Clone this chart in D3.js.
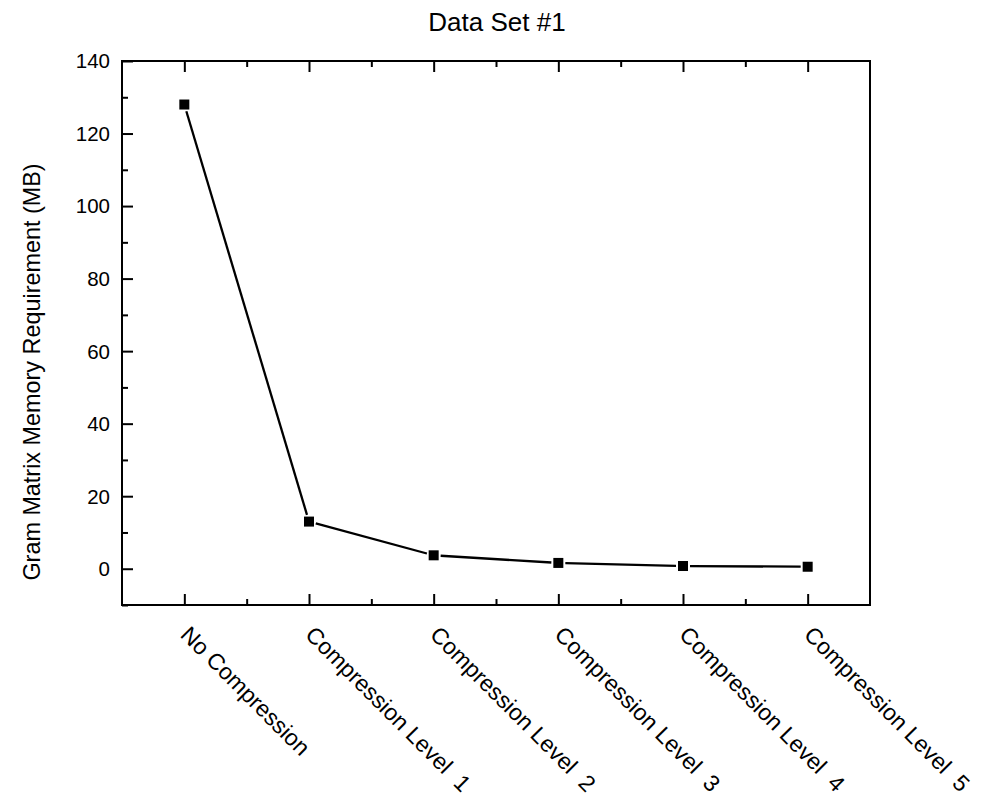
<!DOCTYPE html>
<html>
<head>
<meta charset="utf-8">
<script src="https://cdn.jsdelivr.net/npm/d3@7"></script>
<style>
  html, body { margin: 0; padding: 0; background: #fff; }
  svg { display: block; }
  text { font-family: "Liberation Sans", Arial, sans-serif; fill: #000; }
</style>
</head>
<body>
<svg id="chart" width="981" height="805"></svg>
<script>
// Memory needed for the Gram matrix at each compression setting
const categories = ["No Compression", "Compression Level  1", "Compression Level  2",
                    "Compression Level  3", "Compression Level  4", "Compression Level  5"];
const memoryMB = [128, 13, 3.7, 1.6, 0.75, 0.55];
const yTicks = [0, 20, 40, 60, 80, 100, 120, 140];
const yMinorTicks = [-10, 10, 30, 50, 70, 90, 110, 130];
const title = "Data Set #1";
const yLabel = "Gram Matrix Memory Requirement (MB)";

const svg = d3.select("#chart");
const m = { left: 122, right: 870, top: 61, bottom: 605 };

const x = d3.scaleLinear().domain([-0.5, categories.length - 0.5]).range([m.left, m.right]);
const y = d3.scaleLinear().domain([-10, 140]).range([m.bottom, m.top]);

const xMajor = d3.range(categories.length);
const xMinor = d3.range(categories.length - 1).map(i => i + 0.5);

// frame
svg.append("rect")
  .attr("x", m.left).attr("y", m.top)
  .attr("width", m.right - m.left).attr("height", m.bottom - m.top)
  .attr("fill", "none").attr("stroke", "#000").attr("stroke-width", 2);

// left axis: ticks pointing inward
const gy = svg.append("g").attr("transform", `translate(${m.left},0)`);
gy.call(d3.axisRight(y).tickValues(yTicks).tickSize(11).tickFormat(""));
gy.append("g").call(d3.axisRight(y).tickValues(yMinorTicks).tickSize(6).tickFormat(""));
gy.selectAll(".domain").remove();
gy.selectAll("line").attr("stroke", "#000").attr("stroke-width", 2);
gy.selectAll(".ylab").data(yTicks).join("text")
  .attr("class", "ylab")
  .attr("x", -12).attr("y", d => y(d)).attr("dy", "0.36em")
  .attr("text-anchor", "end").attr("font-size", 20.5)
  .text(d => d);

// bottom axis: ticks pointing inward
const gx = svg.append("g").attr("transform", `translate(0,${m.bottom})`);
gx.call(d3.axisTop(x).tickValues(xMajor).tickSize(11).tickFormat(""));
gx.append("g").call(d3.axisTop(x).tickValues(xMinor).tickSize(6).tickFormat(""));
gx.selectAll(".domain").remove();
gx.selectAll("line").attr("stroke", "#000").attr("stroke-width", 2);

// top axis mirrors the bottom ticks
const gt = svg.append("g").attr("transform", `translate(0,${m.top})`);
gt.call(d3.axisBottom(x).tickValues(xMajor).tickSize(11).tickFormat(""));
gt.append("g").call(d3.axisBottom(x).tickValues(xMinor).tickSize(6).tickFormat(""));
gt.selectAll(".domain").remove();
gt.selectAll("line").attr("stroke", "#000").attr("stroke-width", 2);

// rotated category labels
svg.selectAll(".xlab").data(categories).join("text")
  .attr("class", "xlab")
  .attr("font-size", 23)
  .attr("text-anchor", "start")
  .attr("transform", (d, i) => `translate(${x(i) - 5},${m.bottom + 31}) rotate(45)`)
  .attr("xml:space", "preserve")
  .style("white-space", "pre")
  .text(d => d);

// connecting line, broken short of each marker
const pts = memoryMB.map((v, i) => [x(i), y(v)]);
const gap = 7;
const segs = d3.pairs(pts).map(([a, b]) => {
  const dx = b[0] - a[0], dy = b[1] - a[1];
  const len = Math.hypot(dx, dy);
  const ux = dx / len, uy = dy / len;
  return [a[0] + ux * gap, a[1] + uy * gap, b[0] - ux * gap, b[1] - uy * gap];
});
svg.selectAll(".seg").data(segs).join("line")
  .attr("class", "seg")
  .attr("x1", d => d[0]).attr("y1", d => d[1])
  .attr("x2", d => d[2]).attr("y2", d => d[3])
  .attr("stroke", "#000").attr("stroke-width", 2.3);

// square markers
const s = 10;
svg.selectAll(".pt").data(memoryMB).join("rect")
  .attr("class", "pt")
  .attr("x", (d, i) => x(i) - s / 2).attr("y", d => y(d) - s / 2)
  .attr("width", s).attr("height", s).attr("fill", "#000");

// title
svg.append("text")
  .attr("x", (m.left + m.right) / 2 + 1).attr("y", 31)
  .attr("text-anchor", "middle").attr("font-size", 26)
  .text(title);

// y axis title
svg.append("text")
  .attr("transform", `translate(40,372) rotate(-90)`)
  .attr("text-anchor", "middle").attr("font-size", 23.4)
  .text(yLabel);
</script>
</body>
</html>
